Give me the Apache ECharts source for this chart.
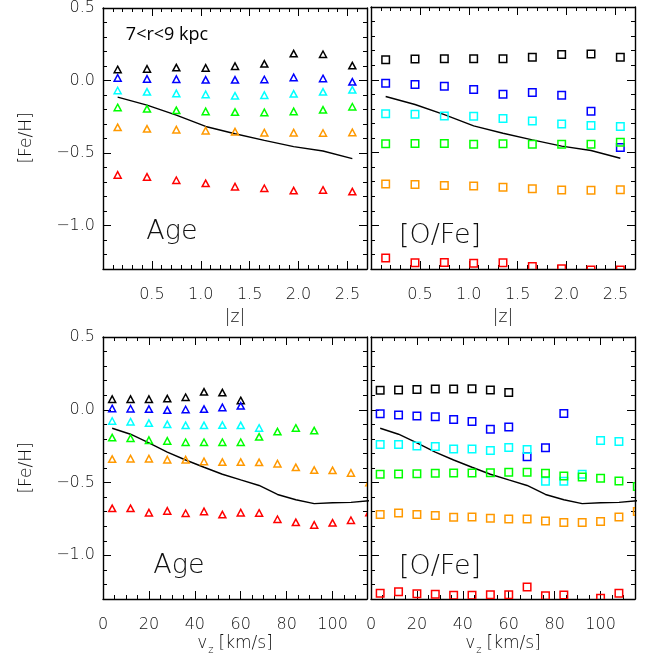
<!DOCTYPE html>
<html>
<head>
<meta charset="utf-8">
<script src="https://cdn.jsdelivr.net/npm/echarts@6/dist/echarts.min.js"></script>
<style>html,body{margin:0;padding:0;background:#fff}#c{width:655px;height:659px}</style>
</head>
<body>
<div id="c"></div>
<script>
// ---------- data ----------
const zBins = [0.15, 0.45, 0.75, 1.05, 1.35, 1.65, 1.95, 2.25, 2.55];
const vzBins = [4, 12, 20, 28, 36, 44, 52, 60, 68, 76, 84, 92, 100, 108, 116];

// top-left: Age groups vs |z|
const ageZBlack  = [0.076, 0.080, 0.089, 0.087, 0.099, 0.115, 0.186, 0.181, 0.103];
const ageZBlue   = [0.018, 0.011, 0.009, 0.005, 0.005, 0.007, 0.021, 0.014, -0.009];
const ageZCyan   = [-0.069, -0.078, -0.089, -0.096, -0.106, -0.101, -0.092, -0.078, -0.064];
const ageZGreen  = [-0.186, -0.195, -0.206, -0.213, -0.218, -0.220, -0.213, -0.202, -0.181];
const ageZOrange = [-0.323, -0.333, -0.339, -0.346, -0.353, -0.360, -0.360, -0.362, -0.358];
const ageZRed    = [-0.651, -0.665, -0.688, -0.709, -0.732, -0.743, -0.759, -0.755, -0.766];
const meanZ      = [-0.115, -0.170, -0.239, -0.317, -0.367, -0.413, -0.456, -0.486, -0.539];

// top-right: [O/Fe] groups vs |z|
const ofeZBlack  = [0.138, 0.142, 0.144, 0.144, 0.144, 0.154, 0.174, 0.177, 0.154];
const ofeZBlue   = [-0.023, -0.032, -0.044, -0.067, -0.099, -0.087, -0.106, -0.216, -0.466];
const ofeZCyan   = [-0.234, -0.236, -0.248, -0.250, -0.266, -0.284, -0.303, -0.314, -0.321];
const ofeZGreen  = [-0.440, -0.438, -0.438, -0.443, -0.440, -0.443, -0.443, -0.443, -0.429];
const ofeZOrange = [-0.716, -0.720, -0.727, -0.729, -0.739, -0.748, -0.757, -0.759, -0.755];
const ofeZRed    = [-1.225, -1.257, -1.255, -1.261, -1.257, -1.282, -1.298, -1.307, -1.307];

// bottom-left: Age groups vs v_z
const ageVBlack  = [0.073, 0.073, 0.073, 0.077, 0.086, 0.123, 0.118, 0.064];
const ageVBlue   = [0.009, 0.007, 0.005, -0.002, 0.002, 0.005, 0.016, 0.027];
const ageVCyan   = [-0.077, -0.082, -0.091, -0.100, -0.107, -0.107, -0.105, -0.107, -0.125];
const ageVGreen  = [-0.191, -0.195, -0.209, -0.214, -0.223, -0.223, -0.223, -0.223, -0.186, -0.150, -0.125, -0.143];
const ageVOrange = [-0.339, -0.336, -0.336, -0.343, -0.343, -0.355, -0.359, -0.359, -0.361, -0.370, -0.395, -0.414, -0.416, -0.434, -0.500];
const ageVRed    = [-0.677, -0.677, -0.707, -0.695, -0.711, -0.698, -0.720, -0.707, -0.709, -0.752, -0.773, -0.791, -0.777, -0.759, -0.705];
const meanV      = [-0.127, -0.168, -0.227, -0.291, -0.345, -0.395, -0.443, -0.482, -0.520, -0.582, -0.618, -0.645, -0.639, -0.636, -0.625];

// bottom-right: [O/Fe] groups vs v_z
const ofeVBlack  = [0.134, 0.136, 0.139, 0.143, 0.143, 0.145, 0.136, 0.118];
const ofeVBlue   = [-0.027, -0.036, -0.043, -0.048, -0.066, -0.080, -0.134, -0.118, -0.323, -0.261, -0.025];
const ofeVCyan   = [-0.239, -0.239, -0.248, -0.252, -0.270, -0.270, -0.280, -0.259, -0.273, -0.491, -0.491, -0.443, -0.211, -0.218];
const ofeVGreen  = [-0.443, -0.441, -0.439, -0.436, -0.434, -0.434, -0.432, -0.430, -0.430, -0.436, -0.455, -0.461, -0.470, -0.489, -0.527];
const ofeVOrange = [-0.720, -0.709, -0.720, -0.727, -0.739, -0.736, -0.745, -0.750, -0.750, -0.764, -0.775, -0.775, -0.768, -0.736, -0.698];
const ofeVRed    = [-1.261, -1.250, -1.264, -1.268, -1.275, -1.275, -1.270, -1.270, -1.218, -1.277, -1.273, null, -1.295, -1.261];

// tick labels
const yLabels = [0.5, 0.0, -0.5, -1.0];
const zLabels = [0.5, 1.0, 1.5, 2.0, 2.5];
const vzLabels = [0, 20, 40, 60, 80, 100];

const groupColors = ['#000000', '#0000ff', '#00ffff', '#00ff00', '#ff9900', '#ff0000'];

// ---------- helpers ----------
const FONT = 'DejaVu Sans';
const FW = 200;
function steps(a, b, s) { const r = []; const n = Math.round((b - a) / s); for (let i = 0; i <= n; i++) r.push(+(a + i * s).toFixed(6)); return r; }
function pairs(xs, ys) { const r = []; ys.forEach((y, i) => { if (y !== null && y !== undefined) r.push([xs[i], y]); }); return r; }
const fmtDec = v => (Math.abs(v) < 1e-9 ? '0.0' : v.toFixed(1)).replace('-', '\u2212');
const fmtInt = v => String(Math.round(v));

const grids = [
  { left: 103, top: 7, width: 264, height: 262 },
  { left: 371, top: 7, width: 264, height: 262 },
  { left: 103, top: 337, width: 264, height: 262 },
  { left: 371, top: 337, width: 264, height: 262 }
];

const xAxis = [], yAxis = [];
const lineStyle = { color: '#000', width: 1.4 };
const labelStyle = { fontSize: 16, fontFamily: FONT, fontWeight: FW, color: '#111' };
function addX(gi, min, max, major, minor, labels, fmt) {
  const base = { type: 'value', gridIndex: gi, min: min, max: max, splitLine: { show: false } };
  const idx = xAxis.length;
  xAxis.push(Object.assign({}, base, { position: 'bottom',
    axisLine: { show: true, onZero: false, lineStyle: lineStyle },
    axisTick: { show: true, inside: true, length: 8, customValues: major, lineStyle: { color: '#000', width: 1 } },
    axisLabel: Object.assign({ show: true, customValues: labels, formatter: fmt, margin: 18 }, labelStyle) }));
  xAxis.push(Object.assign({}, base, { position: 'bottom',
    axisLine: { show: false, onZero: false },
    axisTick: { show: true, inside: true, length: 4, customValues: minor, lineStyle: { color: '#000', width: 1 } },
    axisLabel: { show: false } }));
  xAxis.push(Object.assign({}, base, { position: 'top',
    axisLine: { show: true, onZero: false, lineStyle: lineStyle },
    axisTick: { show: true, inside: true, length: 8, customValues: major, lineStyle: { color: '#000', width: 1 } },
    axisLabel: { show: false } }));
  xAxis.push(Object.assign({}, base, { position: 'top',
    axisLine: { show: false, onZero: false },
    axisTick: { show: true, inside: true, length: 4, customValues: minor, lineStyle: { color: '#000', width: 1 } },
    axisLabel: { show: false } }));
  return idx;
}
function addY(gi, showLabels) {
  const base = { type: 'value', gridIndex: gi, min: -1.3, max: 0.5, splitLine: { show: false } };
  const major = [0.5, 0.0, -0.5, -1.0];
  const minor = steps(-1.3, 0.5, 0.1);
  const idx = yAxis.length;
  yAxis.push(Object.assign({}, base, { position: 'left',
    axisLine: { show: true, onZero: false, lineStyle: lineStyle },
    axisTick: { show: true, inside: true, length: 8, customValues: major, lineStyle: { color: '#000', width: 1 } },
    axisLabel: Object.assign({ show: showLabels, customValues: yLabels, formatter: fmtDec, margin: 8, padding: [8, 0, 0, 0] }, labelStyle) }));
  yAxis.push(Object.assign({}, base, { position: 'left',
    axisLine: { show: false, onZero: false },
    axisTick: { show: true, inside: true, length: 4, customValues: minor, lineStyle: { color: '#000', width: 1 } },
    axisLabel: { show: false } }));
  yAxis.push(Object.assign({}, base, { position: 'right',
    axisLine: { show: true, onZero: false, lineStyle: lineStyle },
    axisTick: { show: true, inside: true, length: 8, customValues: major, lineStyle: { color: '#000', width: 1 } },
    axisLabel: { show: false } }));
  yAxis.push(Object.assign({}, base, { position: 'right',
    axisLine: { show: false, onZero: false },
    axisTick: { show: true, inside: true, length: 4, customValues: minor, lineStyle: { color: '#000', width: 1 } },
    axisLabel: { show: false } }));
  return idx;
}

const zMinor = steps(0, 2.7, 0.1), zMajor = [0.5, 1.0, 1.5, 2.0, 2.5];
const vMinor = steps(0, 115, 5), vMajor = [20, 40, 60, 80, 100];

const ax = [];
ax.push({ x: addX(0, 0, 2.7, zMajor, zMinor, zLabels, fmtDec), y: addY(0, true) });
ax.push({ x: addX(1, 0, 2.7, zMajor, zMinor, zLabels, fmtDec), y: addY(1, false) });
ax.push({ x: addX(2, 0, 115, vMajor, vMinor, vzLabels, fmtInt), y: addY(2, true) });
ax.push({ x: addX(3, 0, 115, vMajor, vMinor, vzLabels, fmtInt), y: addY(3, false) });

const series = [];
function markerRenderer(shape, color) {
  return function (params, api) {
    const p = api.coord([api.value(0), api.value(1)]);
    const style = { fill: 'none', stroke: color, lineWidth: 1.5 };
    if (shape === 'rect') {
      const s = 7.5;
      return { type: 'rect', shape: { x: p[0] - s / 2, y: p[1] - s / 2, width: s, height: s }, style: style };
    }
    const w = 7, h = 6.5;
    return { type: 'polygon', shape: { points: [[p[0], p[1] - h / 2], [p[0] + w / 2, p[1] + h / 2], [p[0] - w / 2, p[1] + h / 2]] }, style: style };
  };
}
function addGroups(p, xs, groups, shape) {
  groups.forEach((ys, k) => {
    series.push({
      type: 'custom', xAxisIndex: ax[p].x, yAxisIndex: ax[p].y,
      data: pairs(xs, ys), renderItem: markerRenderer(shape, groupColors[k]),
      clip: true, silent: true, z: 3
    });
  });
}
function addMean(p, xs, ys) {
  series.push({
    type: 'line', xAxisIndex: ax[p].x, yAxisIndex: ax[p].y,
    data: pairs(xs, ys), showSymbol: false, symbol: 'none',
    lineStyle: { color: '#000', width: 1.4 }, clip: true, silent: true, z: 2
  });
}

addGroups(0, zBins, [ageZBlack, ageZBlue, ageZCyan, ageZGreen, ageZOrange, ageZRed], 'triangle');
addMean(0, zBins, meanZ);
addGroups(1, zBins, [ofeZBlack, ofeZBlue, ofeZCyan, ofeZGreen, ofeZOrange, ofeZRed], 'rect');
addMean(1, zBins, meanZ);
addGroups(2, vzBins, [ageVBlack, ageVBlue, ageVCyan, ageVGreen, ageVOrange, ageVRed], 'triangle');
addMean(2, vzBins, meanV);
addGroups(3, vzBins, [ofeVBlack, ofeVBlue, ofeVCyan, ofeVGreen, ofeVOrange, ofeVRed], 'rect');
addMean(3, vzBins, meanV);

function txt(x, y, text, size, extra) {
  return Object.assign({ type: 'text', x: x, y: y, silent: true,
    style: Object.assign({ text: text, fontSize: size, fontFamily: FONT, fontWeight: FW, fill: '#111', align: 'center', verticalAlign: 'middle' }, (extra && extra.style) || {}) },
    extra && extra.el || {});
}
const vzRich = { a: { fontSize: 17, fontFamily: FONT, fontWeight: FW, fill: '#111' }, b: { fontSize: 10, fontFamily: FONT, fontWeight: FW, fill: '#111', verticalAlign: 'bottom', padding: [0, 5, -3, 1] } };

const graphic = [
  txt(167, 35, '7<r<9 kpc', 18, { style: { fontWeight: 'normal', fontFamily: 'Open Sans', fill: '#000' } }),
  txt(172, 232, 'Age', 27),
  txt(440, 236, '[O/Fe]', 27),
  txt(179, 566, 'Age', 27),
  txt(440, 567, '[O/Fe]', 27),
  txt(27, 138, '[Fe/H]', 17, { el: { rotation: Math.PI / 2 } }),
  txt(27, 468, '[Fe/H]', 17, { el: { rotation: Math.PI / 2 } }),
  txt(235, 318, '|z|', 17),
  txt(503, 318, '|z|', 17),
  { type: 'text', x: 235, y: 644, silent: true, style: { text: '{a|v}{b|z}{a|[km/s]}', rich: vzRich, align: 'center', verticalAlign: 'middle', fontSize: 17, fontFamily: FONT } },
  { type: 'text', x: 503, y: 644, silent: true, style: { text: '{a|v}{b|z}{a|[km/s]}', rich: vzRich, align: 'center', verticalAlign: 'middle', fontSize: 17, fontFamily: FONT } }
];

const chart = echarts.init(document.getElementById('c'), null, { renderer: 'canvas' });
chart.setOption({
  animation: false,
  backgroundColor: '#ffffff',
  grid: grids,
  xAxis: xAxis,
  yAxis: yAxis,
  series: series,
  graphic: graphic
});
</script>
</body>
</html>
